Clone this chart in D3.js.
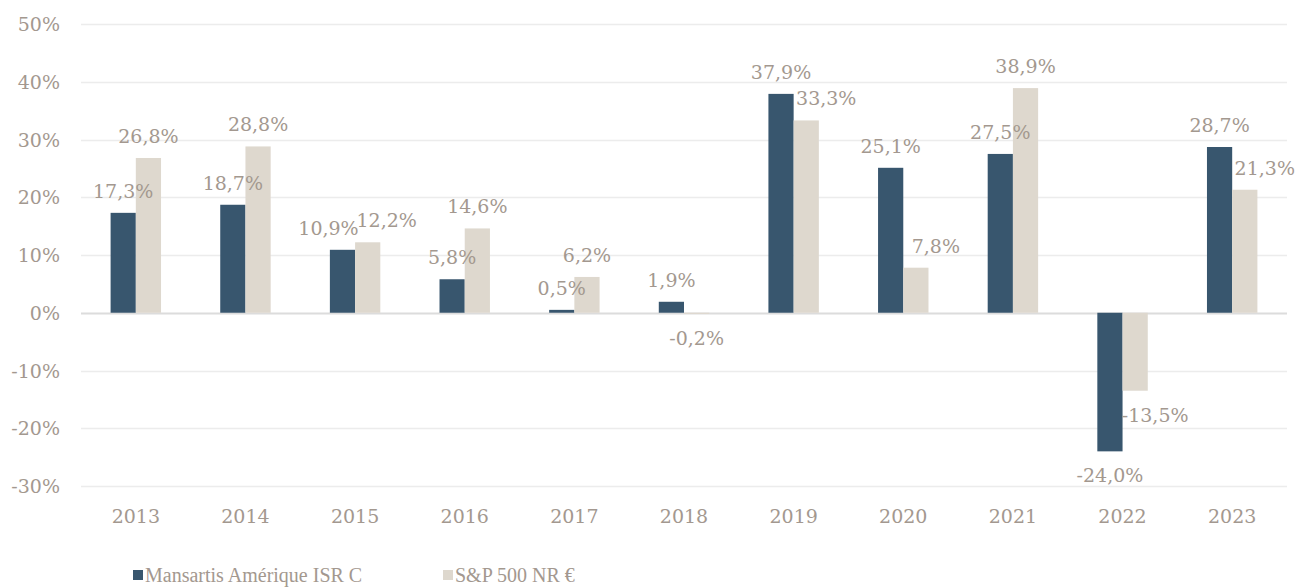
<!DOCTYPE html>
<html lang="fr">
<head>
<meta charset="utf-8">
<script src="https://d3js.org/d3.v7.min.js"></script>
<style>
  body { margin: 0; background: #fff; }
  svg text { font-family: "DejaVu Serif", Georgia, serif; fill: #a3988f; }
  svg text.leg { font-family: "Liberation Serif", "Times New Roman", serif; }
</style>
</head>
<body>
<script>
// data
var years = ["2013", "2014", "2015", "2016", "2017", "2018", "2019", "2020", "2021", "2022", "2023"];
var fund = [17.3, 18.7, 10.9, 5.8, 0.5, 1.9, 37.9, 25.1, 27.5, -24.0, 28.7];
var index = [26.8, 28.8, 12.2, 14.6, 6.2, -0.2, 33.3, 7.8, 38.9, -13.5, 21.3];
var seriesNames = ["Mansartis Amérique ISR C", "S&P 500 NR €"];
var colors = ["#38566e", "#ded8ce"];
var yTicks = [-30, -20, -10, 0, 10, 20, 30, 40, 50];

var width = 1302, height = 587;
var plotL = 81, plotR = 1287, plotT = 24, plotB = 486;

var svg = d3.select("body").append("svg")
  .attr("width", width)
  .attr("height", height);

var x = d3.scaleBand().domain(years).range([plotL, plotR]).padding(0);
var y = d3.scaleLinear().domain([-30, 50]).range([plotB, plotT]);
var barW = x.bandwidth() * 0.23;
var x1 = d3.scaleBand().domain([0, 1])
  .range([x.bandwidth() / 2 - barW, x.bandwidth() / 2 + barW]);

// gridlines
svg.append("g").selectAll("line")
  .data(yTicks)
  .join("line")
  .attr("x1", plotL).attr("x2", plotR)
  .attr("y1", function (d) { return Math.round(y(d)) + 0.5; })
  .attr("y2", function (d) { return Math.round(y(d)) + 0.5; })
  .attr("stroke", function (d) { return d === 0 ? "#dcdcdc" : "#ececec"; })
  .attr("stroke-width", function (d) { return d === 0 ? 2 : 1.3; });

// y axis labels
svg.append("g").selectAll("text")
  .data(yTicks)
  .join("text")
  .attr("x", 60)
  .attr("y", function (d) { return y(d); })
  .attr("text-anchor", "end")
  .attr("dominant-baseline", "central")
  .style("font-size", "19px")
  .text(function (d) { return d + "%"; });

// x axis labels
svg.append("g").selectAll("text")
  .data(years)
  .join("text")
  .attr("x", function (d) { return x(d) + x.bandwidth() / 2; })
  .attr("y", 516)
  .attr("text-anchor", "middle")
  .attr("dominant-baseline", "central")
  .style("font-size", "19px")
  .text(function (d) { return d; });

// bars
var rows = years.map(function (yr, i) {
  return { year: yr, vals: [fund[i], index[i]] };
});
var groups = svg.append("g").selectAll("g")
  .data(rows)
  .join("g")
  .attr("transform", function (d) { return "translate(" + x(d.year) + ",0)"; });

groups.selectAll("rect")
  .data(function (d) { return d.vals.map(function (v, s) { return { s: s, v: v }; }); })
  .join("rect")
  .attr("x", function (d) { return x1(d.s); })
  .attr("width", x1.bandwidth())
  .attr("y", function (d) { return y(Math.max(0, d.v)); })
  .attr("height", function (d) { return Math.max(1, Math.abs(y(d.v) - y(0))); })
  .attr("fill", function (d) { return colors[d.s]; });

// value labels, nudged sideways when they would collide
function fmt(v) { return v.toFixed(1).replace(".", ",") + "%"; }
var labW = 60, labH = 18;
rows.forEach(function (r) {
  var pos = r.vals.map(function (v, s) {
    return {
      s: s, v: v,
      cx: x(r.year) + x1(s) + x1.bandwidth() / 2,
      cy: v >= 0 ? y(v) - 22 : y(v) + 24
    };
  });
  var a = pos[0], b = pos[1];
  // light label over the dark bar
  var darkTop = y(Math.max(0, a.v)), darkBot = y(Math.min(0, a.v));
  var hitsBar = b.cy + labH / 2 > darkTop && b.cy - labH / 2 < darkBot;
  var hitsLab = Math.abs(a.cy - b.cy) < labH && Math.abs(a.cx - b.cx) < labW;
  if (hitsLab) { a.cx -= 14; b.cx += 19; }
  else if (hitsBar) { b.cx += 20; }
  pos.forEach(function (p) {
    svg.append("text")
      .attr("x", p.cx)
      .attr("y", p.cy)
      .attr("text-anchor", "middle")
      .attr("dominant-baseline", "central")
      .style("font-size", "19px")
      .text(fmt(p.v));
  });
});

// legend
var legX = [133, 443];
var leg = svg.append("g").selectAll("g")
  .data(seriesNames)
  .join("g")
  .attr("transform", function (d, i) { return "translate(" + legX[i] + ",570)"; });
leg.append("rect")
  .attr("width", 10).attr("height", 10)
  .attr("fill", function (d, i) { return colors[i]; });
leg.append("text")
  .attr("class", "leg")
  .attr("x", 12)
  .attr("y", 12)
  .style("font-size", "20px")
  .text(function (d) { return d; });

console.log("ready..");
</script>
</body>
</html>
